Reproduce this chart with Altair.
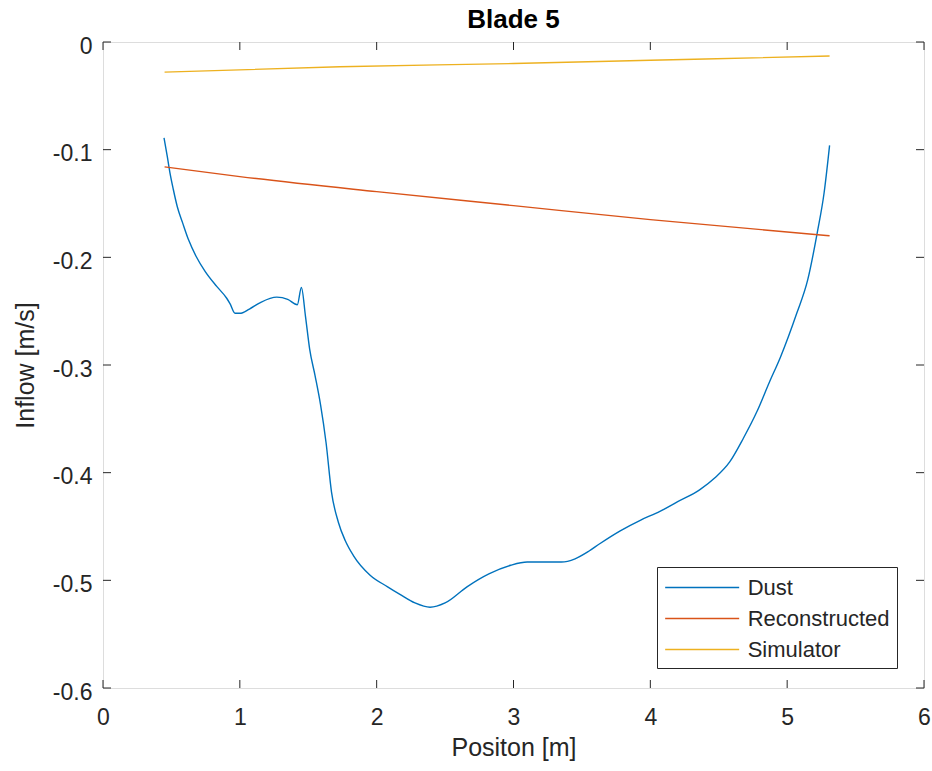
import altair as alt
import pandas as pd

# ---- data ----
dust_x = [0.446, 0.470, 0.490, 0.514, 0.543, 0.582, 0.626, 0.680, 0.746, 0.831, 0.904, 0.928, 0.965,
          1.00, 1.07, 1.15, 1.27, 1.35, 1.42, 1.45, 1.48, 1.51, 1.55, 1.59, 1.63, 1.67, 1.72, 1.77,
          1.83, 1.95, 2.08, 2.17, 2.28, 2.39, 2.50, 2.66, 2.82, 2.98, 3.10, 3.22, 3.35, 3.45, 3.55,
          3.63, 3.78, 3.93, 4.07, 4.20, 4.36, 4.47, 4.58, 4.68, 4.78, 4.87, 4.95, 5.07, 5.15, 5.22,
          5.27, 5.31]
dust_y = [-0.089, -0.1065, -0.122, -0.137, -0.153, -0.168, -0.184, -0.199, -0.213, -0.227, -0.238,
          -0.243, -0.252, -0.252, -0.248, -0.242, -0.237, -0.239, -0.244, -0.228, -0.255, -0.285,
          -0.310, -0.337, -0.372, -0.418, -0.446, -0.463, -0.477, -0.495, -0.506, -0.513, -0.521,
          -0.525, -0.521, -0.506, -0.494, -0.486, -0.483, -0.483, -0.483, -0.480, -0.473, -0.466,
          -0.454, -0.444, -0.436, -0.427, -0.416, -0.405, -0.390, -0.368, -0.343, -0.316, -0.293,
          -0.252, -0.221, -0.177, -0.140, -0.096]

rec_x = [0.45, 1.0, 2.0, 3.0, 4.0, 5.31]
rec_y = [-0.116, -0.125, -0.139, -0.152, -0.165, -0.180]

sim_x = [0.45, 1.73, 3.0, 4.0, 5.31]
sim_y = [-0.028, -0.023, -0.020, -0.017, -0.013]

series_names = ["Dust", "Reconstructed", "Simulator"]
series_colors = ["#0072BD", "#D95319", "#EDB120"]

x_ticks = [0, 1, 2, 3, 4, 5, 6]
y_ticks = [0, -0.1, -0.2, -0.3, -0.4, -0.5, -0.6]

W, H = 821, 646
TICK = 8
FONT = "Liberation Sans"
AX = "#262626"

rows = []
for name, xs, ys in [("Dust", dust_x, dust_y), ("Reconstructed", rec_x, rec_y), ("Simulator", sim_x, sim_y)]:
    for i, (a, b) in enumerate(zip(xs, ys)):
        rows.append({"x": a, "y": b, "series": name, "order": i})
df = pd.DataFrame(rows)
xt = pd.DataFrame({"x": x_ticks})
yt = pd.DataFrame({"y": y_ticks})

xscale = alt.Scale(domain=[0, 6], nice=False, zero=False)
yscale = alt.Scale(domain=[-0.6, 0], nice=False, zero=False)

x_axis = alt.Axis(values=x_ticks, title="Positon [m]", grid=False, domain=False, tickSize=0,
                  labelPadding=18, labelFontSize=23, labelFont=FONT, labelColor=AX,
                  titleFont=FONT, titleFontSize=25, titleFontWeight="normal", titleColor=AX,
                  titleY=67, titleBaseline="alphabetic", labelFlush=False, labelBound=False,
                  format="d")
y_axis = alt.Axis(values=y_ticks, title="Inflow [m/s]", grid=False, domain=False, tickSize=0,
                  labelPadding=11, labelFontSize=23, labelFont=FONT, labelColor=AX, labelOffset=4,
                  titleFont=FONT, titleFontSize=25, titleFontWeight="normal", titleColor=AX,
                  titleX=-70, titleY=H / 2, titleBaseline="alphabetic", titleAngle=-90,
                  labelFlush=False, labelBound=False,
                  labelExpr="datum.value == 0 ? '0' : '-' + format(abs(datum.value), '.1f')")

SYM = 24.67  # layout size of the legend symbol; the drawn line is 3x wider
lines = alt.Chart(df).mark_line(strokeWidth=1.4, interpolate="monotone").encode(
    x=alt.X("x:Q", scale=xscale, axis=x_axis),
    y=alt.Y("y:Q", scale=yscale, axis=y_axis),
    color=alt.Color("series:N", scale=alt.Scale(domain=series_names, range=series_colors),
                    legend=alt.Legend(title=None, orient="none", legendX=554, legendY=525,
                                      symbolType="M-3,0L3,0", symbolSize=SYM * SYM,
                                      symbolStrokeWidth=1.4, symbolOffset=SYM,
                                      labelFont=FONT, labelFontSize=22, labelColor=AX,
                                      labelOffset=32, labelLimit=400, rowPadding=6, padding=7,
                                      strokeColor=AX, fillColor="white", cornerRadius=0)),
    order="order:Q",
)

tick_style = dict(color=AX, strokeWidth=1)
bottom = alt.Chart(xt).mark_rule(**tick_style).encode(
    x=alt.X("x:Q", scale=xscale, axis=x_axis), y=alt.value(H), y2=alt.value(H - TICK))
top = alt.Chart(xt).mark_rule(**tick_style).encode(
    x=alt.X("x:Q", scale=xscale, axis=x_axis), y=alt.value(0), y2=alt.value(TICK))
left = alt.Chart(yt).mark_rule(**tick_style).encode(
    y=alt.Y("y:Q", scale=yscale, axis=y_axis), x=alt.value(0), x2=alt.value(TICK))
right = alt.Chart(yt).mark_rule(**tick_style).encode(
    y=alt.Y("y:Q", scale=yscale, axis=y_axis), x=alt.value(W), x2=alt.value(W - TICK))

chart = alt.layer(lines, bottom, top, left, right).properties(
    width=W, height=H,
    title=alt.TitleParams("Blade 5", font=FONT, fontSize=26, fontWeight="bold", color="black",
                          anchor="middle", offset=2),
    autosize=alt.AutoSizeParams(type="none"),
    padding={"left": 103, "top": 42, "right": 8, "bottom": 83},
).configure_view(stroke=AX, strokeWidth=1).configure(background="white")

chart.save("out.html", embed_options={"renderer": "svg", "actions": False})
